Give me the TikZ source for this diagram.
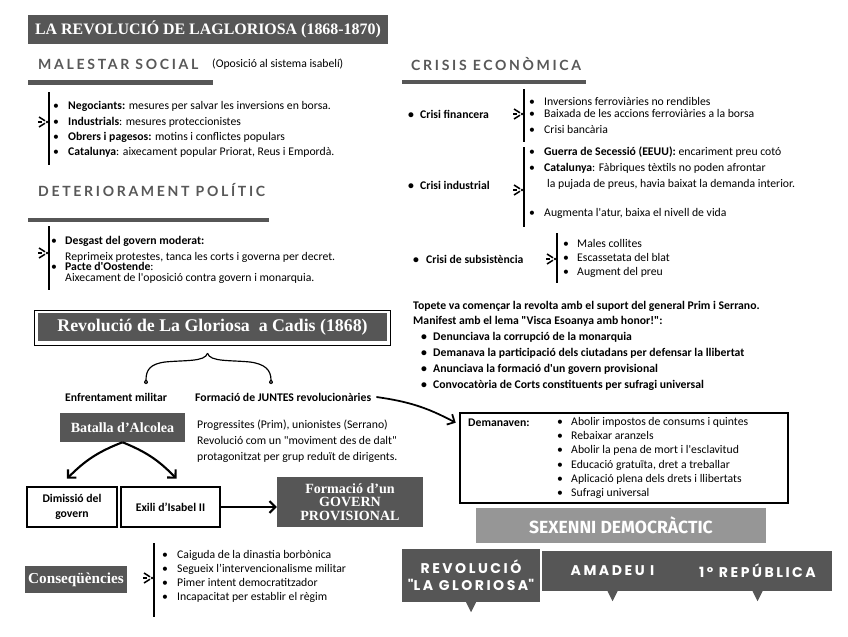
\documentclass[tikz,border=0pt]{standalone}
\usepackage{fontspec}
\setmainfont{Carlito}
\newfontfamily\headfont[LetterSpace=19]{Lato}
\newfontfamily\serifhead{Liberation Serif}
\newfontfamily\tagfont[LetterSpace=18]{Poppins}
\newfontfamily\markfont{Fira Sans}
\usetikzlibrary{arrows.meta,fit}

\newlength\pxu
\setlength\pxu{0.03cm}
\newcommand\itm[1][15]{\makebox[#1\pxu][l]{\textbullet}}
\newcommand\ap{\textquotesingle}

\definecolor{boxgray}{RGB}{86,86,86}
\definecolor{headgray}{RGB}{88,88,88}
\definecolor{sexgray}{RGB}{150,150,150}

\tikzset{
  darkbox/.style={fill=boxgray, text=white, inner sep=0pt, align=center,
    font=\serifhead\bfseries\fontsize{12}{13}\selectfont},
  outbox/.style={draw, line width=2.2pt, inner sep=0pt, align=center,
    font=\bfseries\fontsize{10}{13}\selectfont},
  heading/.style={anchor=west, inner sep=0pt, text=headgray,
    font=\headfont\bfseries\fontsize{12}{14}\selectfont},
  txt/.style={anchor=north west, inner sep=0pt, align=left,
    font=\fontsize{10}{12}\selectfont},
  lbl/.style={anchor=west, inner sep=0pt, font=\bfseries\fontsize{10}{12}\selectfont},
  bar/.style={fill=boxgray},
  vline/.style={line width=1pt},
  fatarrow/.style={line width=1.8pt, -{Straight Barb[length=5pt,width=10pt]}},
  tagbox/.style={fill=boxgray, text=white, inner sep=0pt, align=center,
    font=\tagfont\bfseries\fontsize{12}{14.5}\selectfont},
  spark/.pic={
    \draw[line width=1.3pt] (-8,-5) -- (-2,-1.2);
    \draw[line width=1.3pt] (-8,5) -- (-2,1.2);
    \draw[line width=0.9pt] (-9,0) -- (-5,0);
    \fill (0,0) circle[radius=1.1pt];
  }
}

\begin{document}
\begin{tikzpicture}[x=0.03cm, y=-0.03cm]
  \useasboundingbox (0,0) rectangle (848,636);

  % title
  \node[darkbox, minimum width=360\pxu, minimum height=29\pxu,
    font=\serifhead\bfseries\fontsize{13.6}{16}\selectfont] (title) at (208,29.5)
    {LA REVOLUCIÓ DE LAGLORIOSA (1868-1870)};

  % malestar social
  \node[heading] (malestar) at (38,64) {MALESTAR SOCIAL};
  \node[anchor=west, inner sep=0pt] (isabeli) at (212,64) {(Oposició al sistema isabelí)};
  \fill[bar] (28,80) rectangle (213,85);
  \draw[vline] (49,92) -- (49,165);
  \pic at (47,122) {spark};
  \node[txt, font=\fontsize{10}{13}\selectfont] (social) at (53,101.5) {\itm\textbf{Negociants:} mesures per salvar les inversions en borsa.\\
    \itm\textbf{Industrials}: mesures proteccionistes\\
    \itm\textbf{Obrers i pagesos:} motins i conflictes populars\\
    \itm\textbf{Catalunya}: aixecament popular Priorat, Reus i Empordà.};

  % deteriorament politic
  \node[heading] (deterior) at (38,190) {DETERIORAMENT POLÍTIC};
  \fill[bar] (28,218) rectangle (269,222);
  \draw[vline] (49,226) -- (49,290);
  \pic at (47,253) {spark};
  \node[txt] (politic) at (51,236.5) {\itm[14]\textbf{Desgast del govern moderat:}\\[1.6pt]
    \hspace*{14\pxu}Reprimeix protestes, tanca les corts i governa per decret.\\[-3.5pt]
    \itm[14]\textbf{Pacte d\ap Oostende}:\\[-2.6pt]
    \hspace*{14\pxu}Aixecament de l\ap oposició contra govern i monarquia.};

  % crisis economica
  \node[heading] (crisis) at (411,64) {CRISIS ECONÒMICA};
  \fill[bar] (402,80) rectangle (586,84);

  \node[lbl] (financera) at (408,114) {\itm[12]Crisi financera};
  \draw[vline] (524,89) -- (524,142);
  \pic at (522,114) {spark};
  \node[txt] (finlist) at (529,97) {\itm Inversions ferroviàries no rendibles\\[-1.5pt]
    \itm Baixada de les accions ferroviàries a la borsa\\[1.6pt]
    \itm Crisi bancària};

  \node[lbl] (industrial) at (408,185) {\itm[12]Crisi industrial};
  \draw[vline] (524,147) -- (524,227);
  \pic at (522,190) {spark};
  \node[txt] (indlist) at (529,147) {\itm\textbf{Guerra de Secessió (EEUU):} encariment preu cotó\\[1.6pt]
    \itm\textbf{Catalunya}: Fàbriques tèxtils no poden afrontar\\[1.6pt]
    \hspace*{18\pxu}la pujada de preus, havia baixat la demanda interior.\\[12.7pt]
    \itm Augmenta l\ap atur, baixa el nivell de vida};

  \node[lbl] (subsist) at (413,259) {\itm[13]Crisi de subsistència};
  \draw[vline] (557,233) -- (557,283);
  \pic at (555,259) {spark};
  \node[txt] (sublist) at (563,239) {\itm[14]Males collites\\\itm[14]Escassetata del blat\\\itm[14]Augment del preu};

  \node[txt, font=\bfseries\fontsize{10}{12}\selectfont] (topete) at (413,301.5) {Topete va començar la revolta amb el suport del general Prim i Serrano.\\[0.8pt]
    Manifest amb el lema \textquotedbl Visca Esoanya amb honor!\textquotedbl:\\[1.6pt]
    \hspace*{8\pxu}\itm[12]Denunciava la corrupció de la monarquia\\[1.6pt]
    \hspace*{8\pxu}\itm[12]Demanava la participació dels ciutadans per defensar la llibertat\\[1.6pt]
    \hspace*{8\pxu}\itm[12]Anunciava la formació d\ap un govern provisional\\[1.6pt]
    \hspace*{8\pxu}\itm[12]Convocatòria de Corts constituents per sufragi universal};

  % la gloriosa
  \draw[double, double distance=1.3pt, line width=0.5pt]
    (33,302) -- (390,302) -- (390,307) -- (395,307) -- (395,348) -- (390,348) -- (390,353)
    -- (33,353) -- (33,348) -- (28,348) -- (28,307) -- (33,307) -- cycle;
  \draw[line width=0.6pt] (34,310) rectangle (390,345);
  \node[darkbox, minimum width=349\pxu, minimum height=28\pxu,
    font=\serifhead\bfseries\fontsize{15.2}{17}\selectfont] (gloriosa) at (212.5,327)
    {Revolució de La Gloriosa\ \ a Cadis (1868)};
  \node[fit={(28,302) (395,353)}, inner sep=0pt] (glorframe) {};

  \coordinate (braceL) at (146,380);
  \coordinate (braceR) at (271,380);
  \draw[line width=1pt] ([xshift=-4\pxu]glorframe.south) .. controls (205,362) and (185,360) .. (165,362)
    .. controls (150,364) and (146,370) .. (braceL) .. controls +(-4pt,-4pt) and +(4pt,-4pt) .. (braceL);
  \draw[line width=1pt] ([xshift=-4\pxu]glorframe.south) .. controls (210,362) and (230,360) .. (250,362)
    .. controls (265,364) and (271,370) .. (braceR) .. controls +(-4pt,-4pt) and +(4pt,-4pt) .. (braceR);

  \node[lbl] (enfrent) at (65,397) {Enfrentament militar};
  \node[lbl] (juntes) at (195,397) {Formació de JUNTES revolucionàries};

  \node[darkbox, minimum width=125\pxu, minimum height=29\pxu] (batalla) at (122.5,427.5) {Batalla d’Alcolea};
  \node[txt, font=\fontsize{10}{13.6}\selectfont] (progres) at (197,419.5) {Progressites (Prim), unionistes (Serrano)\\Revolució com un \textquotedbl moviment des de dalt\textquotedbl\\protagonitzat per grup reduït de dirigents.};

  \node[outbox, minimum width=90\pxu, minimum height=40\pxu] (dimissio) at (72,507) {Dimissió del\\govern};
  \node[outbox, minimum width=99\pxu, minimum height=40\pxu] (exili) at (170.5,507) {Exili d’Isabel II};
  \node[darkbox, minimum width=146\pxu, minimum height=50\pxu,
    font=\serifhead\bfseries\fontsize{12}{11.5}\selectfont] (govern) at (350,502) {Formació d’un\\GOVERN\\PROVISIONAL};

  \draw[fatarrow] (batalla.south) to[bend right=12] ([xshift=-5\pxu, yshift=7\pxu]dimissio.north);
  \draw[fatarrow] (batalla.south) to[bend left=12] ([xshift=6\pxu, yshift=7\pxu]exili.north);
  \draw[fatarrow] (exili.east) -- (exili.east -| govern.west);

  % demanaven
  \node[draw, line width=2.2pt, fit={(460,413) (788,503)}, inner sep=0pt] (demanda) {};
  \node[lbl] (demanaven) at (468,423) {Demanaven:};
  \node[txt] (demlist) at (557,417.5) {\itm[14]Abolir impostos de consums i quintes\\
    \itm[14]Rebaixar aranzels\\
    \itm[14]Abolir la pena de mort i l\ap esclavitud\\
    \itm[14]Educació gratuïta, dret a treballar\\
    \itm[14]Aplicació plena dels drets i llibertats\\
    \itm[14]Sufragi universal};
  \draw[fatarrow, line width=1.5pt] ([xshift=5\pxu]juntes.east) to[bend left=10] ([xshift=-3\pxu, yshift=-11\pxu]demanda.north west);

  % sexenni
  \node[fill=sexgray, text=white, minimum width=290\pxu, minimum height=35\pxu, inner sep=0pt,
    font=\markfont\bfseries\fontsize{15}{17}\selectfont] (sexenni) at (621,525.5) {SEXENNI DEMOCRÀCTIC};
  \node[tagbox, minimum width=138\pxu, minimum height=53\pxu] (tagrev) at (471,575.5) {REVOLUCIÓ\\\textquotedbl LA GLORIOSA\textquotedbl};
  \node[tagbox, minimum width=141\pxu, minimum height=40\pxu] (tagamadeu) at (612.5,571) {AMADEU I};
  \node[tagbox, minimum width=149\pxu, minimum height=40\pxu] (tagrep) at (757.5,571) {1º REPÚBLICA};
  \foreach \t in {tagrev,tagamadeu,tagrep}
    \fill[boxgray] ([xshift=-5\pxu]\t.south) -- ([xshift=5\pxu]\t.south) -- ([yshift=-10\pxu]\t.south) -- cycle;

  % consequencies
  \node[darkbox, minimum width=102\pxu, minimum height=27\pxu,
    font=\serifhead\bfseries\fontsize{13}{15}\selectfont] (conseq) at (76,579.5) {Conseqüències};
  \draw[vline] (154,543) -- (154,617);
  \pic at (152,578) {spark};
  \node[txt, font=\fontsize{10}{11.7}\selectfont] (conslist) at (162,550.5) {\itm Caiguda de la dinastia borbònica\\
    \itm Segueix l’intervencionalisme militar\\
    \itm Pimer intent democratitzador\\
    \itm Incapacitat per establir el règim};
\end{tikzpicture}
\end{document}
